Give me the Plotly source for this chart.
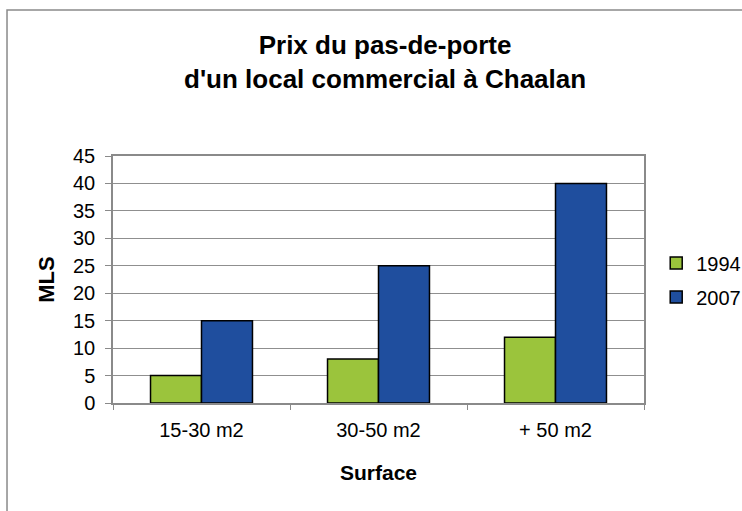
import plotly.graph_objects as go

categories = ["15-30 m2", "30-50 m2", "+ 50 m2"]
years = ["1994", "2007"]
values_1994 = [5, 8, 12]
values_2007 = [15, 25, 40]
colors = ["#9bc43c", "#1f4e9e"]

FONT = "Liberation Sans, Arial, sans-serif"

fig = go.Figure()
for name, vals, col in zip(years, [values_1994, values_2007], colors):
    fig.add_trace(go.Bar(
        x=categories, y=vals, name=name, legendgroup=name,
        marker=dict(color=col, line=dict(color="#000000", width=1.5)),
    ))

fig.update_layout(
    width=742, height=511,
    margin=dict(l=113, r=98, t=156, b=108, autoexpand=False),
    paper_bgcolor="white", plot_bgcolor="white",
    barmode="group", bargap=0.424, bargroupgap=0,
    font=dict(family=FONT, color="#000000", size=20),
    title=dict(
        text="<b>Prix du pas-de-porte<br>d'un local commercial à Chaalan</b>",
        x=0.519, xanchor="center", y=0.894, yanchor="middle",
        font=dict(family=FONT, size=26, color="#000000"),
    ),
    legend=dict(
        x=1.023, xanchor="left", y=0.498, yanchor="middle",
        font=dict(family=FONT, size=20), tracegroupgap=5,
        itemwidth=30, bgcolor="rgba(0,0,0,0)",
    ),
    showlegend=True,
)

fig.update_xaxes(
    type="category", automargin=False,
    showline=True, linecolor="#8a8a8a", linewidth=1.5, mirror=True,
    ticks="outside", tickson="boundaries", ticklen=5, tickcolor="#8a8a8a",
    tickfont=dict(family=FONT, size=20), ticklabelstandoff=8,
    title=dict(text="<b>Surface</b>", font=dict(family=FONT, size=21), standoff=26),
    showgrid=False,
)
fig.update_yaxes(
    range=[0, 45], dtick=5, tick0=0, automargin=False,
    showline=True, linecolor="#8a8a8a", linewidth=1.5, mirror=True,
    ticks="outside", ticklen=6, tickcolor="#8a8a8a",
    tickfont=dict(family=FONT, size=20), ticklabelstandoff=6,
    showgrid=True, gridcolor="#8f8f8f", gridwidth=1, zeroline=False,
    title=dict(text="<b>MLS</b>", font=dict(family=FONT, size=22), standoff=12),
)

# outer chart-area border (left and top edges visible)
fig.add_shape(type="path", xref="paper", yref="paper",
              path="M -0.1996 -0.6 L -0.1996 1.591 L 1.4 1.591",
              line=dict(color="#8a8a8a", width=1.5))

fig.write_html("out.html", config={"displayModeBar": False},
               post_script="document.body.style.margin='0';")
